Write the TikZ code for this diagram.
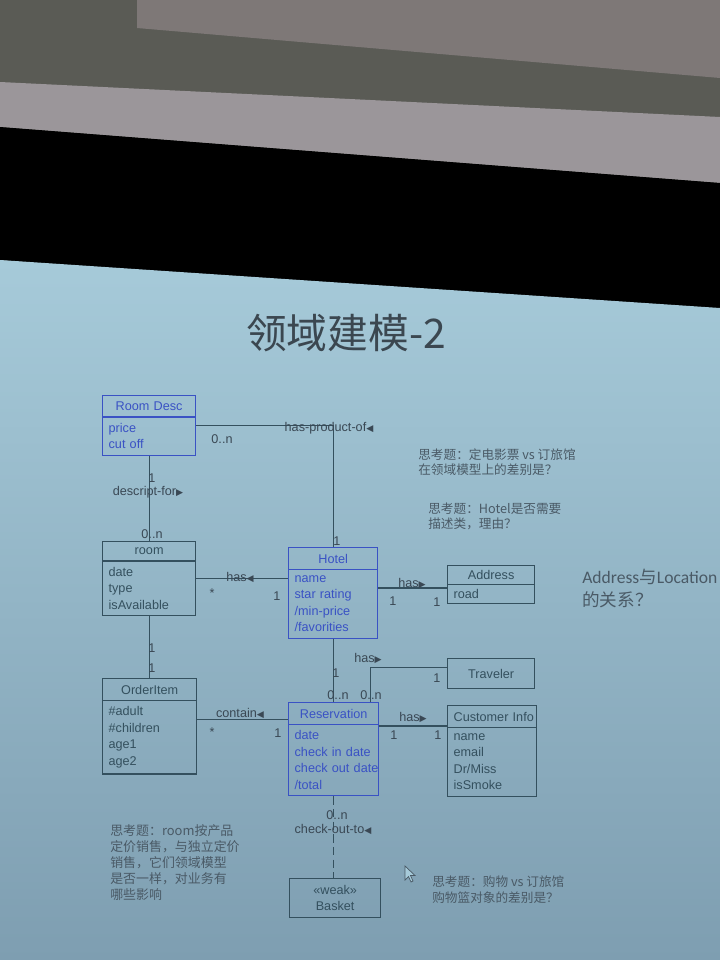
\documentclass[tikz,border=0pt]{standalone}
\usepackage{fontspec}
\setmainfont{Liberation Sans}
\newfontfamily\cjkfont{Noto Sans CJK SC}
\newfontfamily\slidefont{Carlito}
\newfontfamily\symfont{DejaVu Sans}
\usetikzlibrary{shapes.multipart, positioning, calc}
\definecolor{slidetop}{HTML}{A6CAD9}
\definecolor{slidebot}{HTML}{7E9EB1}
\definecolor{umlblue}{HTML}{3A52C4}
\definecolor{umlgray}{HTML}{34505E}
\definecolor{labelgray}{HTML}{3A4854}
\definecolor{notegray}{HTML}{4A5A66}
\definecolor{titlegray}{HTML}{3B4750}
\definecolor{ceiling}{HTML}{5A5B55}
\definecolor{ceilpanel}{HTML}{7E7877}
\definecolor{ceilband}{HTML}{9B969A}
\newcommand{\lefttri}{{\symfont\fontsize{6.5}{6.5}\selectfont ◀}}
\newcommand{\righttri}{{\symfont\fontsize{6.5}{6.5}\selectfont ▶}}

\begin{document}
\begin{tikzpicture}[x=0.025cm,y=-0.025cm,font=\fontsize{9}{11.7}\selectfont,
    classbox/.style={rectangle split,rectangle split parts=2,draw=umlgray,text=umlgray,line width=0.9pt,anchor=north west,align=left,inner xsep=0.15cm,inner ysep=4pt},
    bluebox/.style={classbox,draw=umlblue,text=umlblue},
    plainbox/.style={draw=umlgray,text=umlgray,line width=0.9pt,anchor=north west,align=center,inner sep=2pt},
    assoc/.style={draw=umlgray,line width=0.9pt},
    mult/.style={text=labelgray,inner sep=0pt},
    note/.style={text=notegray,align=left,anchor=north west,inner sep=0pt,font=\cjkfont\fontsize{9}{10.7}\selectfont}]
  % room, ceiling and screen
  \useasboundingbox (0,0) rectangle (720,960);
  \fill[ceiling] (0,0) rectangle (720,320);
  \fill[ceilpanel] (137,0) -- (720,0) -- (720,78) -- (137,28) -- cycle;
  \fill[ceilband] (0,82) -- (720,117) -- (720,183) -- (0,127) -- cycle;
  \fill[black] (0,127) -- (720,183) -- (720,320) -- (0,260) -- cycle;
  \shade[top color=slidetop,bottom color=slidebot] (0,260) -- (720,308) -- (720,960) -- (0,960) -- cycle;

  % title
  \node[text=titlegray,font=\cjkfont\fontsize{29}{32}\selectfont] (title) at (346,333) {领域建模-2};

  % classes
  \node[bluebox,text width=2.025cm] (roomdesc) at (102,395) {\hfill Room Desc\hfill\null\nodepart{two}price\\cut off};
  \node[classbox,text width=2.025cm] (room) at (102,541) {\hfill room\hfill\null\nodepart{two}date\\type\\isAvailable};
  \node[bluebox,text width=1.925cm] (hotel) at (288,547) {\hfill Hotel\hfill\null\nodepart{two}name\\star rating\\/min-price\\/favorities};
  \node[classbox,text width=1.875cm,inner ysep=3pt] (address) at (447,565) {\hfill Address\hfill\null\nodepart{two}road};
  \node[plainbox,minimum width=2.175cm,minimum height=0.75cm] (traveler) at (447,658) {Traveler};
  \node[classbox,text width=2.05cm] (orderitem) at (102,678) {\hfill OrderItem\hfill\null\nodepart{two}\#adult\\\#children\\age1\\age2};
  \node[bluebox,text width=1.95cm] (reservation) at (288,702) {\hfill Reservation\hfill\null\nodepart{two}date\\check in date\\\mbox{check out date}\\/total};
  \node[classbox,text width=1.925cm] (custinfo) at (447,705) {\mbox{Customer Info}\nodepart{two}name\\email\\Dr/Miss\\isSmoke};
  \node[plainbox,minimum width=2.275cm,minimum height=0.975cm] (basket) at (289,878) {«weak»\\Basket};

  % associations
  \draw[assoc] (roomdesc.east) -| (hotel.north);
  \draw[assoc] (roomdesc.south) -- (roomdesc.south |- room.north);
  \draw[assoc] (room.east) -- (room.east -| hotel.west);
  \draw[assoc] (room.south) -- (room.south |- orderitem.north);
  \draw[assoc] ([yshift=0.125cm]hotel.east) -- ([yshift=0.125cm]hotel.east -| address.west);
  \draw[assoc] (hotel.south) -- (hotel.south |- reservation.north);
  \draw[assoc] ([xshift=0.925cm]reservation.north) |- ([yshift=0.15cm]traveler.west);
  \draw[assoc] ([yshift=0.175cm]orderitem.east) -- ([yshift=0.175cm]orderitem.east -| reservation.west);
  \draw[assoc] ([yshift=0.575cm]reservation.east) -- ([yshift=0.575cm]reservation.east -| custinfo.west);
  \draw[assoc,dashed,dash pattern=on 6pt off 3pt] (reservation.south) -- (reservation.south |- basket.north);

  % association labels
  \node[mult] (hpo) at (329,428) {has-product-of\lefttri};
  \node[mult] (hpo-a) at (222,439) {0..n};
  \node[mult] (hpo-b) at (337,541) {1};
  \node[mult] (df-a) at (152,478) {1};
  \node[mult] (df) at (148,492) {descript-for\righttri};
  \node[mult] (df-b) at (152,534) {0..n};
  \node[mult] (rh) at (240,577) {has\lefttri};
  \node[mult] (rh-a) at (212,593) {*};
  \node[mult] (rh-b) at (277,596) {1};
  \node[mult] (ro-a) at (152,648) {1};
  \node[mult] (ro-b) at (152,668) {1};
  \node[mult] (ha) at (412,583) {has\righttri};
  \node[mult] (ha-a) at (393,601) {1};
  \node[mult] (ha-b) at (437,602) {1};
  \node[mult] (hr-a) at (336,673) {1};
  \node[mult] (hr-b) at (338,695) {0..n};
  \node[mult] (rt) at (368,658) {has\righttri};
  \node[mult] (rt-a) at (371,695) {0..n};
  \node[mult] (rt-b) at (437,678) {1};
  \node[mult] (or) at (240,713) {contain\lefttri};
  \node[mult] (or-a) at (212,732) {*};
  \node[mult] (or-b) at (278,733) {1};
  \node[mult] (rc) at (413,717) {has\righttri};
  \node[mult] (rc-a) at (394,735) {1};
  \node[mult] (rc-b) at (438,735) {1};
  \node[mult] (rb-a) at (337,815) {0..n};
  \node[mult] (rb) at (333,829) {check-out-to\lefttri};

  % questions on the slide
  \node[note] (q1) at (418,448) {思考题：定电影票 vs 订旅馆\\在领域模型上的差别是？};
  \node[note] (q2) at (428,503) {思考题：Hotel是否需要\\描述类，理由？};
  \node[note,font=\cjkfont\fontsize{12.5}{16.4}\selectfont] (q3) at (582,569) {{\slidefont Address}与{\slidefont Location}\\的关系？};
  \node[note,font=\cjkfont\fontsize{9.2}{11.4}\selectfont] (q4) at (110,824) {思考题：room按产品\\定价销售，与独立定价\\销售，它们领域模型\\是否一样，对业务有\\哪些影响};
  \node[note] (q5) at (432,876) {思考题：购物 vs 订旅馆\\购物篮对象的差别是？};

  % mouse pointer
  \draw[notegray,fill=slidetop,line width=0.5pt] (405,866) -- (405,880) -- (408.5,876.5) -- (411,882) -- (413,881) -- (410.5,875.5) -- (415,875.5) -- cycle;
\end{tikzpicture}
\end{document}
